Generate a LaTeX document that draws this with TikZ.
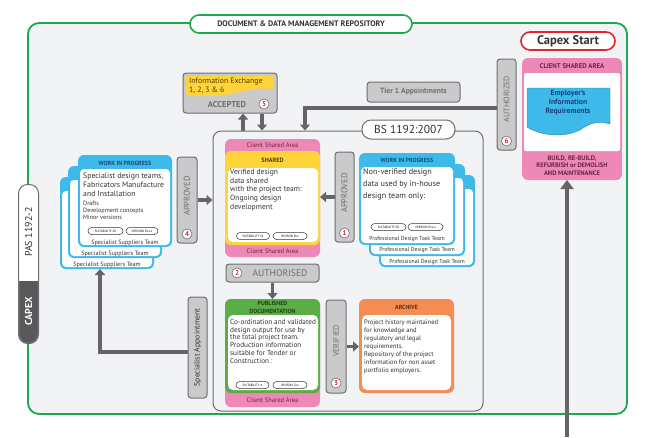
\documentclass[tikz,border=0pt]{standalone}
\usepackage{fontspec}
\setmainfont{PT Sans}
\usetikzlibrary{arrows.meta,calc}
\definecolor{frgreen}{HTML}{1EA84E}
\definecolor{bgcol}{HTML}{F2F3F5}
\definecolor{pinkc}{HTML}{EE88B6}
\definecolor{yellowc}{HTML}{FFD43B}
\definecolor{bluec}{HTML}{3DB9EA}
\definecolor{greenc}{HTML}{5BAE46}
\definecolor{orangec}{HTML}{F58D52}
\definecolor{pillfill}{HTML}{CACACC}
\definecolor{pilldraw}{HTML}{6E6E70}
\definecolor{arrowc}{HTML}{656567}
\definecolor{txtgray}{HTML}{6E6E6E}
\definecolor{darktxt}{HTML}{333333}
\definecolor{numred}{HTML}{E0262B}
\definecolor{capexdark}{HTML}{58595B}
\definecolor{maroon}{HTML}{6A2545}
\definecolor{wiptxt}{HTML}{1B4B7A}
\definecolor{shtxt}{HTML}{4D3B00}
\definecolor{pubtxt}{HTML}{1F3F1A}
\definecolor{archtxt}{HTML}{5A2A14}
\definecolor{eirtxt}{HTML}{1A3F7A}
\newcommand\fz[2]{\fontsize{#1}{#2}\selectfont}
\tikzset{
  area/.style={inner sep=0pt, outer sep=0pt},
  pill/.style={draw=pilldraw, fill=pillfill, line width=1pt, rounded corners=3pt, inner sep=0pt},
  numc/.style={circle, draw=pilldraw, line width=0.6pt, fill=white, inner sep=0pt, minimum size=10pt, text=numred, font=\bfseries\fz{7}{7}},
  tag/.style={draw=darktxt, line width=0.5pt, fill=white, rounded corners=3.5pt, inner sep=0pt, minimum height=7pt, font=\fz{3.2}{3.2}},
  fat/.style={draw=arrowc, line width=3.5pt, -{Triangle[length=6pt,width=10pt]}},
  vtxt/.style={rotate=90, text=txtgray, inner sep=0pt, font=\fz{8.5}{8.5}},
  txt/.style={inner sep=0pt, align=left, anchor=north west},
  card/.style={area, fill=bluec, rounded corners=6pt},
  cardin/.style={area, fill=white, rounded corners=4pt},
}
\begin{document}
\begin{tikzpicture}[x=1pt,y=-1pt]
\useasboundingbox (0,0) rectangle (647,437);
\fill[white] (0,0) rectangle (647,437);
% main frame
\node[draw=frgreen, line width=1.8pt, fill=bgcol, rounded corners=11pt, minimum width=599pt, minimum height=391pt, inner sep=0pt] (frame) at (327.5,218.5) {};
\node[draw=frgreen, line width=1.6pt, fill=white, rounded corners=9pt, minimum width=222pt, minimum height=18pt, inner sep=0pt, text=darktxt, font=\bfseries\fz{8}{8}] (hdr) at (301,24) {DOCUMENT \& DATA MANAGEMENT REPOSITORY};

% Capex start + client shared area
\node[draw=numred, line width=1.6pt, fill=white, rounded corners=9pt, minimum width=94pt, minimum height=18pt, inner sep=0pt, font=\bfseries\fz{12.5}{12.5}, text=darktxt] (capex) at (568,41) {Capex Start};
\node[area, fill=pinkc, rounded corners=6pt, minimum width=100pt, minimum height=122pt] (client) at (572,119) {};
\node[area, fill=white, rounded corners=2pt, minimum width=96pt, minimum height=78pt] (clientin) at (572,112) {};
\node[inner sep=0pt, text=maroon, font=\bfseries\fz{6.8}{6.8}] (clienthd) at (572,66) {CLIENT SHARED AREA};
\node[inner sep=0pt, align=center, text=maroon, font=\bfseries\fz{6.5}{7.6}] (clientft) at (572,165.5) {BUILD, RE-BUILD,\\REFURBISH or DEMOLISH\\AND MAINTENANCE};
\fill[bluec] (527,88) -- (610,88) -- (610,124) .. controls (600,121) and (592,122) .. (583,128) .. controls (570,137) and (545,138) .. (527,127) -- cycle;
\draw[bluec!70!black, line width=0.4pt] (527,88) -- (610,88) -- (610,124) .. controls (600,121) and (592,122) .. (583,128) .. controls (570,137) and (545,138) .. (527,127) -- cycle;
\node[inner sep=0pt, align=center, text=eirtxt, font=\bfseries\fz{7.6}{9}] (eir) at (568,103) {Employer's\\Information\\Requirements};

% Authorized (6)
\node[pill, minimum width=19pt, minimum height=91pt] (auth) at (506.5,104.5) {};
\node[vtxt, font=\fz{8}{8}] (authtx) at (506.5,99) {AUTHORIZED};
\node[numc] (n6) at (506.5,141) {6};

% BS 1192 box
\node[draw=pilldraw, line width=1pt, rounded corners=8pt, minimum width=270pt, minimum height=280pt, inner sep=0pt] (bs) at (348,271) {};
\node[draw=pilldraw, line width=1pt, fill=white, rounded corners=9pt, minimum width=93pt, minimum height=19pt, inner sep=0pt, text=darktxt, font=\fz{11.5}{11.5}] (bslbl) at (408.5,129.5) {BS 1192:2007};

% Tier 1
\node[pill, minimum width=93pt, minimum height=20pt, text=txtgray, font=\bfseries\fz{7.6}{7.6}] (tier) at (413.5,92) {Tier 1 Appointments};
\coordinate (tk) at (305,108);
\draw[fat, line width=4pt] (auth.west |- tk) -- (tk) -- (tk |- bs.north);

% Information exchange (5)
\node[pill, minimum width=94pt, minimum height=40pt] (info) at (230,93) {};
\fill[yellowc] (186,76) -- (273,76) -- (273,89) .. controls (258,87) and (245,91) .. (230,94) .. controls (215,97) and (198,97) .. (186,94) -- cycle;
\node[txt, text=shtxt, font=\fz{7.8}{8.6}] (infotx) at (189,78) {Information Exchange\\1, 2, 3 \& 6};
\node[inner sep=0pt, text=txtgray, font=\bfseries\fz{8.5}{8.5}] (acc) at (227,105) {ACCEPTED};
\node[numc] (n5) at (264,104) {5};
\coordinate (ux) at (243,0);
\coordinate (dx) at (262,0);
\draw[fat] (ux |- bs.north) -- (ux |- info.south);
\draw[fat] (dx |- info.south) -- (dx |- bs.north);

% Shared
\node[area, fill=pinkc, rounded corners=6pt, minimum width=95pt, minimum height=118pt] (shared) at (272.5,198) {};
\node[area, fill=yellowc, rounded corners=6pt, minimum width=95pt, minimum height=94pt] (sharedy) at (272.5,198) {};
\node[area, fill=white, rounded corners=5pt, minimum width=90pt, minimum height=74pt] (sharedin) at (273,205) {};
\node[inner sep=0pt, text=maroon, font=\fz{6.5}{6.5}] (csa1) at (272.5,145.5) {Client Shared Area};
\node[inner sep=0pt, text=shtxt, font=\bfseries\fz{6.2}{6.2}] (shhd) at (272.5,160) {SHARED};
\node[inner sep=0pt, text=maroon, font=\fz{6.5}{6.5}] (csa2) at (272.5,251.5) {Client Shared Area};
\node[txt, text=darktxt, font=\fz{7.6}{8.7}] (shtx) at (230,169) {Verified design\\data shared\\with the project team:\\Ongoing design\\development};
\node[tag, minimum width=33pt] (t1) at (253,236) {SUITABILITY S1};
\node[tag, minimum width=34pt] (t2) at (290,236) {RIVISON Pxx};

% Approved (1)
\node[pill, minimum width=19pt, minimum height=90pt] (app1) at (344.5,197) {};
\node[vtxt] (app1tx) at (344.5,193) {APPROVED};
\node[numc] (n1) at (344.5,233) {1};
\draw[fat] (app1.west) -- (app1.west -| shared.east);

% Right WIP stack
\node[card, minimum width=96pt, minimum height=92pt] (wr3) at (427,221) {};
\node[cardin, minimum width=92pt, minimum height=76pt] (wr3i) at (427,227) {};
\node[card, minimum width=96pt, minimum height=92pt] (wr2) at (417,210) {};
\node[cardin, minimum width=92pt, minimum height=76pt] (wr2i) at (417,216) {};
\node[card, minimum width=96pt, minimum height=92pt] (wr1) at (407,199) {};
\node[cardin, minimum width=92pt, minimum height=76pt] (wr1i) at (407,205) {};
\node[inner sep=0pt, text=darktxt, font=\fz{5.8}{5.8}] (pr3) at (427,262) {Professional Design Task Team};
\node[inner sep=0pt, text=darktxt, font=\fz{5.8}{5.8}] (pr2) at (417,250.5) {Professional Design Task Team};
\node[inner sep=0pt, text=darktxt, font=\fz{5.8}{5.8}] (pr1) at (407,239.5) {Professional Design Task Team};
\node[inner sep=0pt, text=wiptxt, font=\bfseries\fz{6}{6}] (wr1hd) at (407,160) {WORK IN PROGRESS};
\node[txt, text=darktxt, font=\fz{8.2}{12}] (wr1tx) at (363,168) {Non-verified design\\data used by in-house\\design team only:};
\node[tag, minimum width=35pt] (t3) at (388.5,227) {SUITABILITY S0};
\node[tag, minimum width=35pt] (t4) at (425.5,227) {VERSION Pxx.x};

% Left WIP stack
\node[card, minimum width=94pt, minimum height=92pt] (wl3) at (107,223) {};
\node[cardin, minimum width=90pt, minimum height=76pt] (wl3i) at (107,229) {};
\node[card, minimum width=94pt, minimum height=92pt] (wl2) at (115,212) {};
\node[cardin, minimum width=90pt, minimum height=76pt] (wl2i) at (115,218) {};
\node[card, minimum width=94pt, minimum height=92pt] (wl1) at (125,201) {};
\node[cardin, minimum width=90pt, minimum height=76pt] (wl1i) at (125,207) {};
\node[inner sep=0pt, text=darktxt, font=\fz{6.2}{6.2}] (ss3) at (107,265) {Specialist Suppliers Team};
\node[inner sep=0pt, text=darktxt, font=\fz{6.2}{6.2}] (ss2) at (115,254) {Specialist Suppliers Team};
\node[inner sep=0pt, text=darktxt, font=\fz{6.2}{6.2}] (ss1) at (125,243) {Specialist Suppliers Team};
\node[inner sep=0pt, text=wiptxt, font=\bfseries\fz{6}{6}] (wl1hd) at (125,163) {WORK IN PROGRESS};
\node[txt, text=darktxt, font=\fz{7.8}{9}] (wl1tx) at (83,173) {Specialist design teams,\\Fabricators Manufacture\\and Installation};
\node[txt, text=darktxt, font=\fz{6.2}{7}] (wl1tx2) at (83,201) {Drafts\\Development concepts\\Minor versions};
\node[tag, minimum width=35pt] (t5) at (105.5,231) {SUITABILITY S0};
\node[tag, minimum width=32pt] (t6) at (142,231) {VERSION Pxx.x};

% Approved (4)
\node[pill, minimum width=20pt, minimum height=86pt] (app4) at (187,200) {};
\node[vtxt] (app4tx) at (187,196) {APPROVED};
\node[numc] (n4) at (187,234) {4};
\draw[fat] (app4.east) -- (app4.east -| bs.west);

% Authorised (2)
\node[pill, minimum width=93pt, minimum height=18pt] (auth2) at (272.5,273) {};
\node[inner sep=0pt, text=txtgray, font=\fz{9.5}{9.5}] (auth2tx) at (280,273) {AUTHORISED};
\node[numc] (n2) at (237,273) {2};

% Published
\node[area, fill=pinkc, rounded corners=6pt, minimum width=95pt, minimum height=108pt] (pub) at (272.5,353) {};
\node[area, fill=greenc, rounded corners=6pt, minimum width=95pt, minimum height=94pt] (pubg) at (272.5,346) {};
\node[area, fill=white, rounded corners=5pt, minimum width=90pt, minimum height=75pt] (pubin) at (273,352.5) {};
\node[inner sep=0pt, align=center, text=pubtxt, font=\bfseries\fz{6}{7.5}] (pubhd) at (272.5,307.5) {PUBLISHED\\DOCUMENTATION};
\node[txt, text=darktxt, font=\fz{7.2}{7.8}] (pubtx) at (230,319) {Co-ordination and validated\\design output for use by\\the total project team.\\Production information\\suitable for Tender or\\Construction :};
\node[tag, minimum width=33pt] (t7) at (252.5,385) {SUITABILITY A};
\node[tag, minimum width=34pt] (t8) at (290,385) {RIVISON Cxx};
\node[inner sep=0pt, text=maroon, font=\fz{6.5}{6.5}] (csa3) at (272.5,400.5) {Client Shared Area};
\draw[fat] (auth2.south) -- (auth2.south |- pub.north);

% Verified (3)
\node[pill, minimum width=20pt, minimum height=93pt] (ver) at (336,346.5) {};
\node[vtxt, font=\fz{8}{8}] (vertx) at (336,341) {VERIFIED};
\node[numc] (n3) at (336,383) {3};

% Archive
\node[area, fill=orangec, rounded corners=6pt, minimum width=95pt, minimum height=94pt] (arch) at (406.5,346) {};
\node[area, fill=white, rounded corners=5pt, minimum width=89pt, minimum height=75pt] (archin) at (406.5,352.5) {};
\node[inner sep=0pt, text=archtxt, font=\bfseries\fz{6}{6}] (archhd) at (406.5,307.5) {ARCHIVE};
\node[txt, text=darktxt, font=\fz{6.6}{8}] (archtx) at (364,320) {Project history maintained\\for knowledge and\\regulatory and legal\\requirements.\\Repository of the project\\information for non asset\\portfolio employers.};
\draw[fat] (ver.east) -- (ver.east -| arch.west);

% Specialist appointment
\node[pill, minimum width=19pt, minimum height=101pt] (spec) at (197.5,347.5) {};
\node[vtxt, text=darktxt, font=\fz{7.8}{7.8}] (spectx) at (197.5,347.5) {Specialist Appointment};
\coordinate (sx) at (100,352);
\draw[fat] (spec.west |- sx) -- (sx) -- (sx |- wl3.south);

% big right arrow
\coordinate (rb) at (567,437);
\draw[draw=arrowc, line width=4.5pt, -{Triangle[length=9pt,width=13pt]}] (rb) -- (rb |- client.south);

% PAS / CAPEX side pill
\node[draw=pilldraw, line width=1pt, fill=capexdark, rounded corners=9pt, minimum width=19pt, minimum height=158pt, inner sep=0pt] (pas) at (28.5,264) {};
\begin{scope}
\clip (0,0) rectangle (60,280);
\fill[white, rounded corners=9pt] (pas.south west) rectangle (pas.north east);
\end{scope}
\draw[pilldraw, line width=1pt, rounded corners=9pt] (pas.south west) rectangle (pas.north east);
\node[rotate=90, inner sep=0pt, text=darktxt, font=\fz{10}{10}] (pastx) at (28.5,232) {PAS 1192-2};
\node[rotate=90, inner sep=0pt, text=white, font=\bfseries\fz{10}{10}] (capextx) at (28.5,311) {CAPEX};
\end{tikzpicture}
\end{document}
